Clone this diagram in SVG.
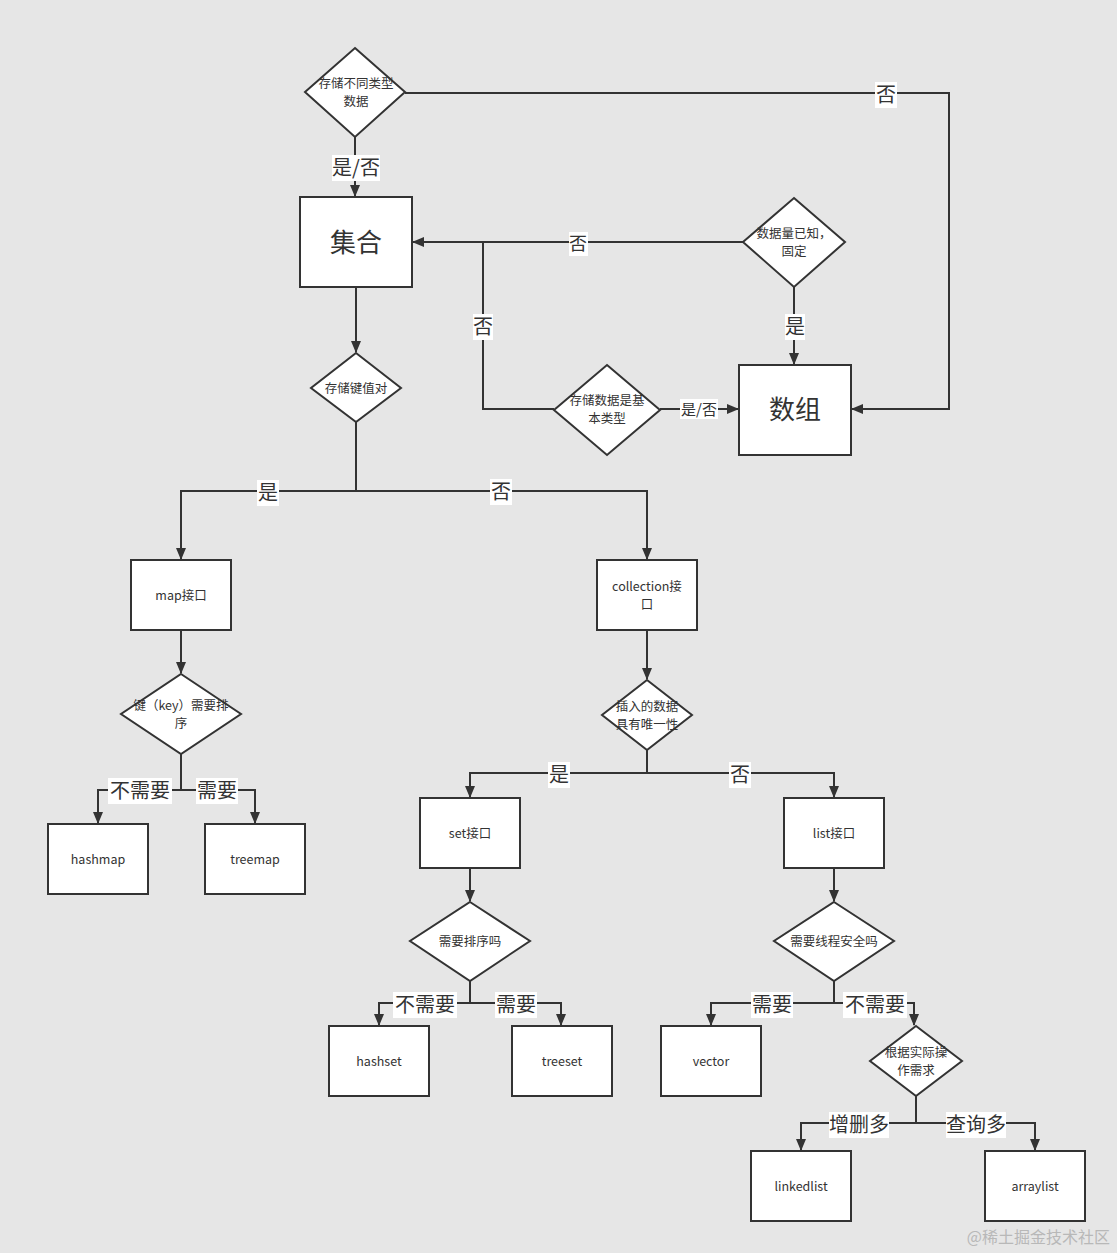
<svg xmlns="http://www.w3.org/2000/svg" width="1117" height="1253" viewBox="0 0 1117 1253">
<defs>
<marker id="arr" markerUnits="userSpaceOnUse" markerWidth="12" markerHeight="10" refX="11" refY="5" orient="auto">
<path d="M0,0 L12,5 L0,10 Z" fill="#333"/>
</marker>
<style>
.n{fill:#fff;stroke:#333;stroke-width:2}
.c{fill:none;stroke:#333;stroke-width:2}
.t{font-family:"Noto Sans CJK SC","Open Sans",sans-serif;fill:#333;text-anchor:middle}
.s{font-size:12.5px}
.b{font-size:26px}
.l{font-size:20px}
.lb{fill:#fff}
.wm{font-family:"Noto Sans CJK SC",sans-serif;fill:#b8b8b8;font-size:16px;text-anchor:end}
</style>
</defs>
<rect width="1117" height="1253" fill="#e6e6e6"/>
<g id="connectors">
<path class="c" d="M355,137 V196" marker-end="url(#arr)"/>
<path class="c" d="M405,93 H949 V409 H852" marker-end="url(#arr)"/>
<path class="c" d="M743,242 H413" marker-end="url(#arr)"/>
<path class="c" d="M554,409 H483 V242"/>
<path class="c" d="M660,409 H738" marker-end="url(#arr)"/>
<path class="c" d="M794,287 V364" marker-end="url(#arr)"/>
<path class="c" d="M356,287 V352" marker-end="url(#arr)"/>
<path class="c" d="M356,422 V491 H181 V559" marker-end="url(#arr)"/>
<path class="c" d="M356,491 H647 V559" marker-end="url(#arr)"/>
<path class="c" d="M181,630 V673" marker-end="url(#arr)"/>
<path class="c" d="M181,754 V790 H98 V823" marker-end="url(#arr)"/>
<path class="c" d="M181,790 H255 V823" marker-end="url(#arr)"/>
<path class="c" d="M647,630 V679" marker-end="url(#arr)"/>
<path class="c" d="M647,750 V773 H470 V797" marker-end="url(#arr)"/>
<path class="c" d="M647,773 H834 V797" marker-end="url(#arr)"/>
<path class="c" d="M470,868 V901" marker-end="url(#arr)"/>
<path class="c" d="M470,981 V1003 H379 V1025" marker-end="url(#arr)"/>
<path class="c" d="M470,1003 H561 V1025" marker-end="url(#arr)"/>
<path class="c" d="M834,868 V901" marker-end="url(#arr)"/>
<path class="c" d="M834,981 V1003 H711 V1025" marker-end="url(#arr)"/>
<path class="c" d="M834,1003 H914 V1025" marker-end="url(#arr)"/>
<path class="c" d="M916,1096 V1123 H801 V1150" marker-end="url(#arr)"/>
<path class="c" d="M916,1123 H1035 V1150" marker-end="url(#arr)"/>
<g id="labels">
<rect class="lb" x="332" y="155" width="48" height="26"/><text class="t l" x="356" y="175">是/否</text>
<rect class="lb" x="875" y="82" width="22" height="26"/><text class="t l" x="886" y="102">否</text>
<rect class="lb" x="569" y="232" width="19" height="24"/><text class="t" style="font-size:18px" x="578" y="250">否</text>
<rect class="lb" x="473" y="314" width="20" height="26"/><text class="t l" x="483" y="334">否</text>
<rect class="lb" x="680" y="399" width="38" height="20"/><text class="t" style="font-size:15px" x="699" y="415">是/否</text>
<rect class="lb" x="785" y="314" width="20" height="26"/><text class="t l" x="795" y="334">是</text>
<rect class="lb" x="257" y="480" width="22" height="26"/><text class="t l" x="268" y="500">是</text>
<rect class="lb" x="490" y="479" width="22" height="26"/><text class="t l" x="501" y="499">否</text>
<rect class="lb" x="108" y="778" width="64" height="26"/><text class="t l" x="140" y="798">不需要</text>
<rect class="lb" x="196" y="778" width="42" height="26"/><text class="t l" x="217" y="798">需要</text>
<rect class="lb" x="548" y="762" width="22" height="26"/><text class="t l" x="559" y="782">是</text>
<rect class="lb" x="729" y="762" width="22" height="26"/><text class="t l" x="740" y="782">否</text>
<rect class="lb" x="393" y="992" width="64" height="26"/><text class="t l" x="425" y="1012">不需要</text>
<rect class="lb" x="495" y="992" width="42" height="26"/><text class="t l" x="516" y="1012">需要</text>
<rect class="lb" x="751" y="992" width="42" height="26"/><text class="t l" x="772" y="1012">需要</text>
<rect class="lb" x="843" y="992" width="64" height="26"/><text class="t l" x="875" y="1012">不需要</text>
<rect class="lb" x="829" y="1112" width="60" height="26"/><text class="t l" x="859" y="1132">增删多</text>
<rect class="lb" x="946" y="1112" width="60" height="26"/><text class="t l" x="976" y="1132">查询多</text>
</g>
</g>
<g id="d1"><polygon class="n" points="355,48 405,92 355,137 305,92"/><text class="t s" x="356" y="88">存储不同类型</text><text class="t s" x="356" y="106">数据</text></g>
<g id="jihe"><rect class="n" x="300" y="197" width="112" height="90"/><text class="t b" x="356" y="252">集合</text></g>
<g id="d2"><polygon class="n" points="794,198 845,242 794,287 743,242"/><text class="t s" x="794" y="238">数据量已知，</text><text class="t s" x="794" y="256">固定</text></g>
<g id="shuzu"><rect class="n" x="739" y="365" width="112" height="90"/><text class="t b" x="795" y="419">数组</text></g>
<g id="d3"><polygon class="n" points="607,365 660,410 607,455 554,410"/><text class="t s" x="607" y="405">存储数据是基</text><text class="t s" x="607" y="423">本类型</text></g>
<g id="d4"><polygon class="n" points="356,353 401,388 356,422 311,388"/><text class="t s" x="356" y="393">存储键值对</text></g>
<g id="map"><rect class="n" x="131" y="560" width="100" height="70"/><text class="t s" x="181" y="600">map接口</text></g>
<g id="collection"><rect class="n" x="597" y="560" width="100" height="70"/><text class="t s" x="647" y="591">collection接</text><text class="t s" x="647" y="609">口</text></g>
<g id="d5"><polygon class="n" points="181,674 241,714 181,754 121,714"/><text class="t s" x="181" y="710">键（key）需要排</text><text class="t s" x="181" y="728">序</text></g>
<g id="d6"><polygon class="n" points="647,680 692,715 647,750 602,715"/><text class="t s" x="647" y="711">插入的数据</text><text class="t s" x="647" y="729">具有唯一性</text></g>
<g id="hashmap"><rect class="n" x="48" y="824" width="100" height="70"/><text class="t s" x="98" y="864">hashmap</text></g>
<g id="treemap"><rect class="n" x="205" y="824" width="100" height="70"/><text class="t s" x="255" y="864">treemap</text></g>
<g id="set"><rect class="n" x="420" y="798" width="100" height="70"/><text class="t s" x="470" y="838">set接口</text></g>
<g id="list"><rect class="n" x="784" y="798" width="100" height="70"/><text class="t s" x="834" y="838">list接口</text></g>
<g id="d7"><polygon class="n" points="470,902 530,941 470,981 410,941"/><text class="t s" x="470" y="946">需要排序吗</text></g>
<g id="d8"><polygon class="n" points="834,902 894,941 834,981 774,941"/><text class="t s" x="834" y="946">需要线程安全吗</text></g>
<g id="hashset"><rect class="n" x="329" y="1026" width="100" height="70"/><text class="t s" x="379" y="1066">hashset</text></g>
<g id="treeset"><rect class="n" x="512" y="1026" width="100" height="70"/><text class="t s" x="562" y="1066">treeset</text></g>
<g id="vector"><rect class="n" x="661" y="1026" width="100" height="70"/><text class="t s" x="711" y="1066">vector</text></g>
<g id="d9"><polygon class="n" points="916,1026 962,1061 916,1096 870,1061"/><text class="t s" x="916" y="1057">根据实际操</text><text class="t s" x="916" y="1075">作需求</text></g>
<g id="linkedlist"><rect class="n" x="751" y="1151" width="100" height="70"/><text class="t s" x="801" y="1191">linkedlist</text></g>
<g id="arraylist"><rect class="n" x="985" y="1151" width="100" height="70"/><text class="t s" x="1035" y="1191">arraylist</text></g>
<text class="wm" x="1110" y="1243">@稀土掘金技术社区</text>
</svg>
